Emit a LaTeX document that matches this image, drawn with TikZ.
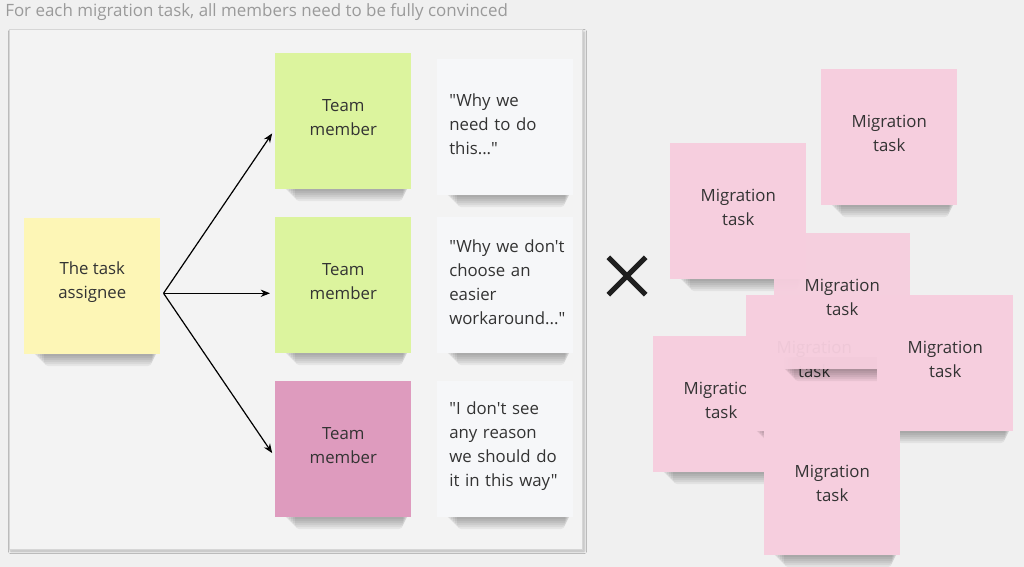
\documentclass[tikz,border=0pt]{standalone}
\usepackage{fontspec}
\setmainfont{Open Sans}[Ligatures=TeXOff]
\usetikzlibrary{arrows.meta,shadows.blur}
\definecolor{bgc}{HTML}{F0F0F0}
\definecolor{panelbg}{HTML}{F3F3F3}
\definecolor{panelline}{HTML}{D6D6D6}
\definecolor{titlegray}{HTML}{9A9A9A}
\definecolor{ink}{HTML}{333333}
\definecolor{yel}{HTML}{FDF6B6}
\definecolor{grn}{HTML}{DCF49E}
\definecolor{mag}{HTML}{DE9BBE}
\definecolor{pnk}{HTML}{F6CEDE}
\definecolor{quotebg}{HTML}{F6F7F9}
\tikzset{
  note/.style={anchor=north west, inner sep=0pt, minimum width=102pt, minimum height=102pt},
  notetext/.style={inner sep=0pt, font=\fontsize{12.6}{18}\selectfont, text=ink, align=center},
  quotetext/.style={notetext, anchor=west, text width=92pt, align=left},
  shadowlayer/.style={black, opacity=0.055, rounded corners=3pt},
  arr/.style={-{Stealth[length=7pt,width=5.5pt]}, line width=0.9pt, shorten >=3.75pt},
  xmark/.style={line width=3.9pt, black!88}
}
\newcommand{\noteshadow}[2]{%
  \foreach \k in {1,...,6}{\fill[shadowlayer] (#1+8+2*\k,#2+124) rectangle (#1+134-\k,#2+136+2*\k);}}
% name, x, y, colour, text
\newcommand{\stickynote}[5]{%
  \noteshadow{#2}{#3}
  \node[note, fill=#4] (#1) at (#2,#3) {};
  \node[notetext] (#1-text) at ([yshift=3pt]#1.center) {#5};}
\newcommand{\quotenote}[4]{%
  \noteshadow{#2}{#3}
  \node[note, fill=quotebg] (#1) at (#2,#3) {};
  \node[quotetext] (#1-text) at ([xshift=9pt,yshift=2pt]#1.west) {#4};}
\begin{document}
\begin{tikzpicture}[x=0.75pt,y=-0.75pt]
\fill[bgc] (0,0) rectangle (1024,567);
\useasboundingbox (0,0) rectangle (1024,567);
% title
\node[anchor=west, inner sep=0pt, font=\fontsize{12.7}{15}\selectfont, text=titlegray] (title) at (5,12)
  {For each migration task, all members need to be fully convinced};
% panel
\path[draw=panelline, fill=panelbg, line width=0.75pt,
  blur shadow={shadow xshift=1.5pt, shadow yshift=-1.5pt, shadow blur radius=2pt, shadow opacity=25}]
  (9,30) rectangle (582,549);
% left notes
\stickynote{assignee}{24}{218}{yel}{The task\\assignee}
\stickynote{m1}{275}{53}{grn}{Team\\member}
\stickynote{m2}{275}{217}{grn}{Team\\member}
\stickynote{m3}{275}{381}{mag}{Team\\member}
\quotenote{q1}{437}{59}{"Why we\\need to do\\this..."}
\quotenote{q2}{437}{217}{"Why we don't\\choose an\\easier\\workaround..."}
\quotenote{q3}{437}{381}{"I don't see\\any reason\\we should do\\it in this way"}
% arrows
\coordinate (fork) at ([xshift=2.25pt,yshift=-5.25pt]assignee.east);
\draw[arr] (fork) -- ([yshift=-6pt]m1.west);
\draw[arr] (fork) -- ([yshift=-6pt]m2.west);
\draw[arr] (fork) -- ([yshift=-6pt]m3.west);
% times sign
\coordinate (xc) at (627,276);
\draw[xmark] ([xshift=-14pt,yshift=14pt]xc) -- ([xshift=14pt,yshift=-14pt]xc);
\draw[xmark] ([xshift=-14pt,yshift=-14pt]xc) -- ([xshift=14pt,yshift=14pt]xc);
% migration tasks
\stickynote{t1}{821}{69}{pnk}{Migration\\task}
\stickynote{t2}{670}{143}{pnk}{Migration\\task}
\stickynote{t6}{653}{336}{pnk}{Migration\\task}
\stickynote{t4}{746}{295}{pnk}{Migration\\task}
\noteshadow{774}{233}
\node[note, fill=pnk, fill opacity=0.96] (t3) at (774,233) {};
\node[notetext] (t3-text) at ([yshift=3pt]t3.center) {Migration\\task};
\stickynote{t5}{877}{295}{pnk}{Migration\\task}
\stickynote{t7}{764}{419}{pnk}{Migration\\task}
\end{tikzpicture}
\end{document}
